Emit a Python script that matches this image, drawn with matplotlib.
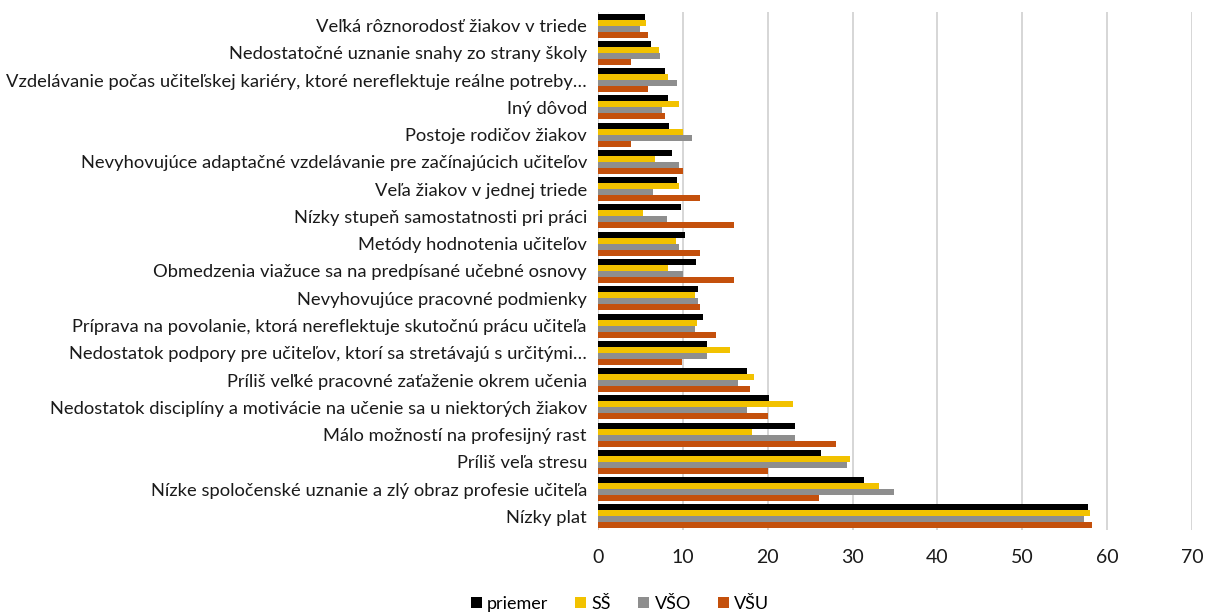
import matplotlib
matplotlib.use("Agg")
import matplotlib.pyplot as plt
import numpy as np

categories = [
    "Veľká rôznorodosť žiakov v triede",
    "Nedostatočné uznanie snahy zo strany školy",
    "Vzdelávanie počas učiteľskej kariéry, ktoré nereflektuje reálne potreby…",
    "Iný dôvod",
    "Postoje rodičov žiakov",
    "Nevyhovujúce adaptačné vzdelávanie pre začínajúcich učiteľov",
    "Veľa žiakov v jednej triede",
    "Nízky stupeň samostatnosti pri práci",
    "Metódy hodnotenia učiteľov",
    "Obmedzenia viažuce sa na predpísané učebné osnovy",
    "Nevyhovujúce pracovné podmienky",
    "Príprava na povolanie, ktorá nereflektuje skutočnú prácu učiteľa",
    "Nedostatok podpory pre učiteľov, ktorí sa stretávajú s určitými…",
    "Príliš veľké pracovné zaťaženie okrem učenia",
    "Nedostatok disciplíny a motivácie na učenie sa u niektorých žiakov",
    "Málo možností na profesijný rast",
    "Príliš veľa stresu",
    "Nízke spoločenské uznanie a zlý obraz profesie učiteľa",
    "Nízky plat",
]

priemer = [5.5, 6.2, 7.9, 8.3, 8.4, 8.7, 9.3, 9.8, 10.2, 11.5, 11.8, 12.4, 12.8, 17.6, 20.2, 23.2, 26.3, 31.4, 57.8]
ss      = [5.6, 7.2, 8.3, 9.5, 10.0, 6.7, 9.6, 5.3, 9.2, 8.3, 11.4, 11.7, 15.6, 18.4, 23.0, 18.1, 29.7, 33.1, 58.0]
vso     = [5.0, 7.3, 9.3, 7.5, 11.1, 9.5, 6.5, 8.1, 9.5, 10.0, 11.8, 11.4, 12.9, 16.5, 17.5, 23.2, 29.3, 34.9, 57.3]
vsu     = [5.9, 3.9, 5.9, 7.9, 3.9, 10.0, 12.0, 16.0, 12.0, 16.0, 12.0, 13.9, 9.9, 17.9, 20.0, 28.0, 20.0, 26.0, 58.2]

series_names = ["priemer", "SŠ", "VŠO", "VŠU"]
colors = ["#000000", "#F2C200", "#8E8E8E", "#C4500C"]
xticks = [0, 10, 20, 30, 40, 50, 60, 70]

plt.rcParams['font.family'] = ['Lato', 'DejaVu Sans']

fig = plt.figure(figsize=(12.05, 6.13), dpi=100)
ax = fig.add_axes([598/1205, 1 - 530/613, (1192-598)/1205, (530-12)/613])

n = len(categories)
y = np.arange(n)
h = 0.22
data = [priemer, ss, vso, vsu]
for i, (vals, c, name) in enumerate(zip(data, colors, series_names)):
    ax.barh(y + (i - 1.5) * h, vals, height=h, color=c, label=name, zorder=3)

ax.set_ylim(n - 0.5, -0.5)
ax.set_xlim(0, 70)
ax.set_xticks(xticks)
ax.set_yticks(y)
ax.set_yticklabels(categories, fontsize=13.2, color="#1a1a1a")
ax.tick_params(axis='x', labelsize=14, length=0, pad=14, colors="#1a1a1a")
ax.tick_params(axis='y', length=0, pad=8)
ax.grid(axis='x', color="#d0d0d0", linewidth=1.2, zorder=0)
for s in ["top", "right", "bottom", "left"]:
    ax.spines[s].set_visible(False)

fig.legend(loc="lower center", bbox_to_anchor=(620/1205, -0.025), ncol=4, frameon=False,
           fontsize=13, handlelength=0.6, handleheight=0.6, handletextpad=0.3, columnspacing=1.5)

fig.savefig("out.png", dpi=100)
